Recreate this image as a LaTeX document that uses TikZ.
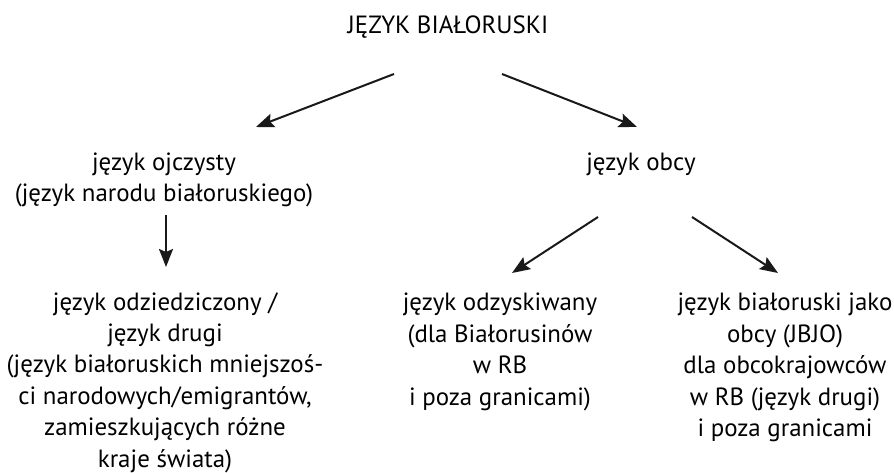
\documentclass[tikz,border=0pt]{standalone}
\usepackage{fontspec}
\setmainfont{PT Sans}
\usetikzlibrary{arrows.meta}
\begin{document}
\begin{tikzpicture}[x=1bp,y=-1bp,
  % multi-line labels are placed by the baseline of their last line
  lbl/.style={anchor=base, align=center, inner sep=0pt,
    font=\fontsize{25}{31.5}\selectfont},
  arr/.style={line width=2bp, draw=black!90,
    -{Stealth[length=18bp,width=14bp,inset=3bp]}}]
\useasboundingbox (0,0) rectangle (894,473);

% labels
\node[lbl] (root) at (448,34) {JĘZYK BIAŁORUSKI};
\node[lbl] (ojcz) at (164,202) {język ojczysty\\(język narodu białoruskiego)};
\node[lbl] (obcy) at (641,171) {język obcy};
\node[lbl] (odzi) at (165,467) {język odziedziczony /\\język drugi\\(język białoruskich mniejszoś-\\ci narodowych/emigrantów,\\zamieszkujących różne\\kraje świata)};
\node[lbl] (odzy) at (500,405) {język odzyskiwany\\(dla Białorusinów\\w RB\\i poza granicami)};
\node[lbl] (jbjo) at (785,436.5) {język białoruski jako\\obcy (JBJO)\\dla obcokrajowców\\w RB (język drugi)\\i poza granicami};

% arrow end points
\coordinate (r1) at (394,74);  \coordinate (o1) at (256,127);
\coordinate (r2) at (502,74);  \coordinate (b1) at (637,127);
\coordinate (o2) at (166,215); \coordinate (d1) at (166,267);
\coordinate (b2) at (598,217); \coordinate (y1) at (512,273);
\coordinate (b3) at (692,217); \coordinate (j1) at (778,273);

% connectors
\draw[arr] (r1) -- (o1);
\draw[arr] (r2) -- (b1);
\draw[arr] (o2) -- (d1);
\draw[arr] (b2) -- (y1);
\draw[arr] (b3) -- (j1);
\end{tikzpicture}
\end{document}
